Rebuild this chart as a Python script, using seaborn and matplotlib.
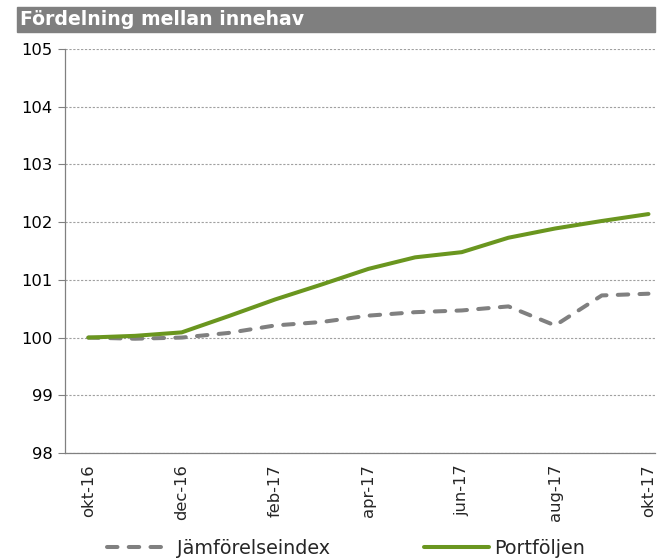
import matplotlib
matplotlib.use("Agg")
import matplotlib.pyplot as plt
from matplotlib.patches import Rectangle
import seaborn as sns
import pandas as pd
import numpy as np

months = ["okt-16", "nov-16", "dec-16", "jan-17", "feb-17", "mar-17", "apr-17",
          "maj-17", "jun-17", "jul-17", "aug-17", "sep-17", "okt-17"]
jamforelseindex = [100.00, 99.98, 100.00, 100.08, 100.21, 100.27, 100.38,
                   100.44, 100.47, 100.54, 100.21, 100.73, 100.76]
portfoljen = [100.00, 100.03, 100.09, 100.37, 100.66, 100.92, 101.19,
              101.39, 101.48, 101.73, 101.89, 102.02, 102.14]
tick_labels = ["okt-16", "dec-16", "feb-17", "apr-17", "jun-17", "aug-17", "okt-17"]
title = "Fördelning mellan innehav"

sns.set_style("white")
plt.rcParams["font.family"] = ["DejaVu Sans"]

df = pd.DataFrame({"pos": np.arange(len(months)), "month": months,
                   "Jämförelseindex": jamforelseindex, "Portföljen": portfoljen})

fig = plt.figure(figsize=(6.57, 5.6), dpi=100)
ax = fig.add_axes([65 / 657, 1 - 453 / 560, 590 / 657, (453 - 49) / 560])

gray = "#808080"
green = "#6A961F"

sns.lineplot(data=df, x="pos", y="Jämförelseindex", ax=ax, color=gray, lw=2.9,
             linestyle=(0, (2.6, 2.8)), dash_capstyle="round", label="Jämförelseindex")
sns.lineplot(data=df, x="pos", y="Portföljen", ax=ax, color=green, lw=2.9,
             solid_capstyle="round", label="Portföljen")

ax.set_xlim(-0.49, 12.14)
ax.set_ylim(98, 105)
ax.set_yticks(range(98, 106))
ax.set_yticklabels([str(v) for v in range(98, 106)], fontsize=11.8, color="#000000")
ax.yaxis.grid(True, linestyle=(0, (2, 1.5)), color="#a0a0a0", lw=0.8)
ax.xaxis.grid(False)

label_pos = [months.index(m) for m in tick_labels]
ax.set_xticks(label_pos)
ax.set_xticklabels(tick_labels, rotation=90, fontsize=11.8)
ax.set_xticks(np.arange(-0.5, 12, 2), minor=True)
ax.tick_params(axis="x", which="major", length=0, pad=8)
ax.tick_params(axis="x", which="minor", length=5, color=gray, width=0.8, direction="out")
ax.tick_params(axis="y", which="major", length=5, color=gray, width=0.8, direction="out", pad=4, left=True)
ax.set_xlabel("")
ax.set_ylabel("")

for s in ["top", "right"]:
    ax.spines[s].set_visible(False)
for s in ["left", "bottom"]:
    ax.spines[s].set_color(gray)
    ax.spines[s].set_linewidth(0.9)

ax.get_legend().remove()
handles, labels = ax.get_legend_handles_labels()
fig.legend(handles, labels, loc="center left", bbox_to_anchor=(107 / 657, 1 - 548 / 560), ncol=2,
           frameon=False, fontsize=13.8, handlelength=3.4, handletextpad=0.26,
           columnspacing=4.9, borderpad=0, borderaxespad=0)

# title bar
fig.patches.append(Rectangle((17 / 657, 1 - 32 / 560), 638 / 657, 25 / 560,
                             transform=fig.transFigure, color="#7f7f7f", zorder=0))
fig.text(20 / 657, 1 - 19.5 / 560, title, color="white", fontsize=13.6,
         fontweight="bold", va="center", ha="left")

fig.savefig("out.png", dpi=100)
